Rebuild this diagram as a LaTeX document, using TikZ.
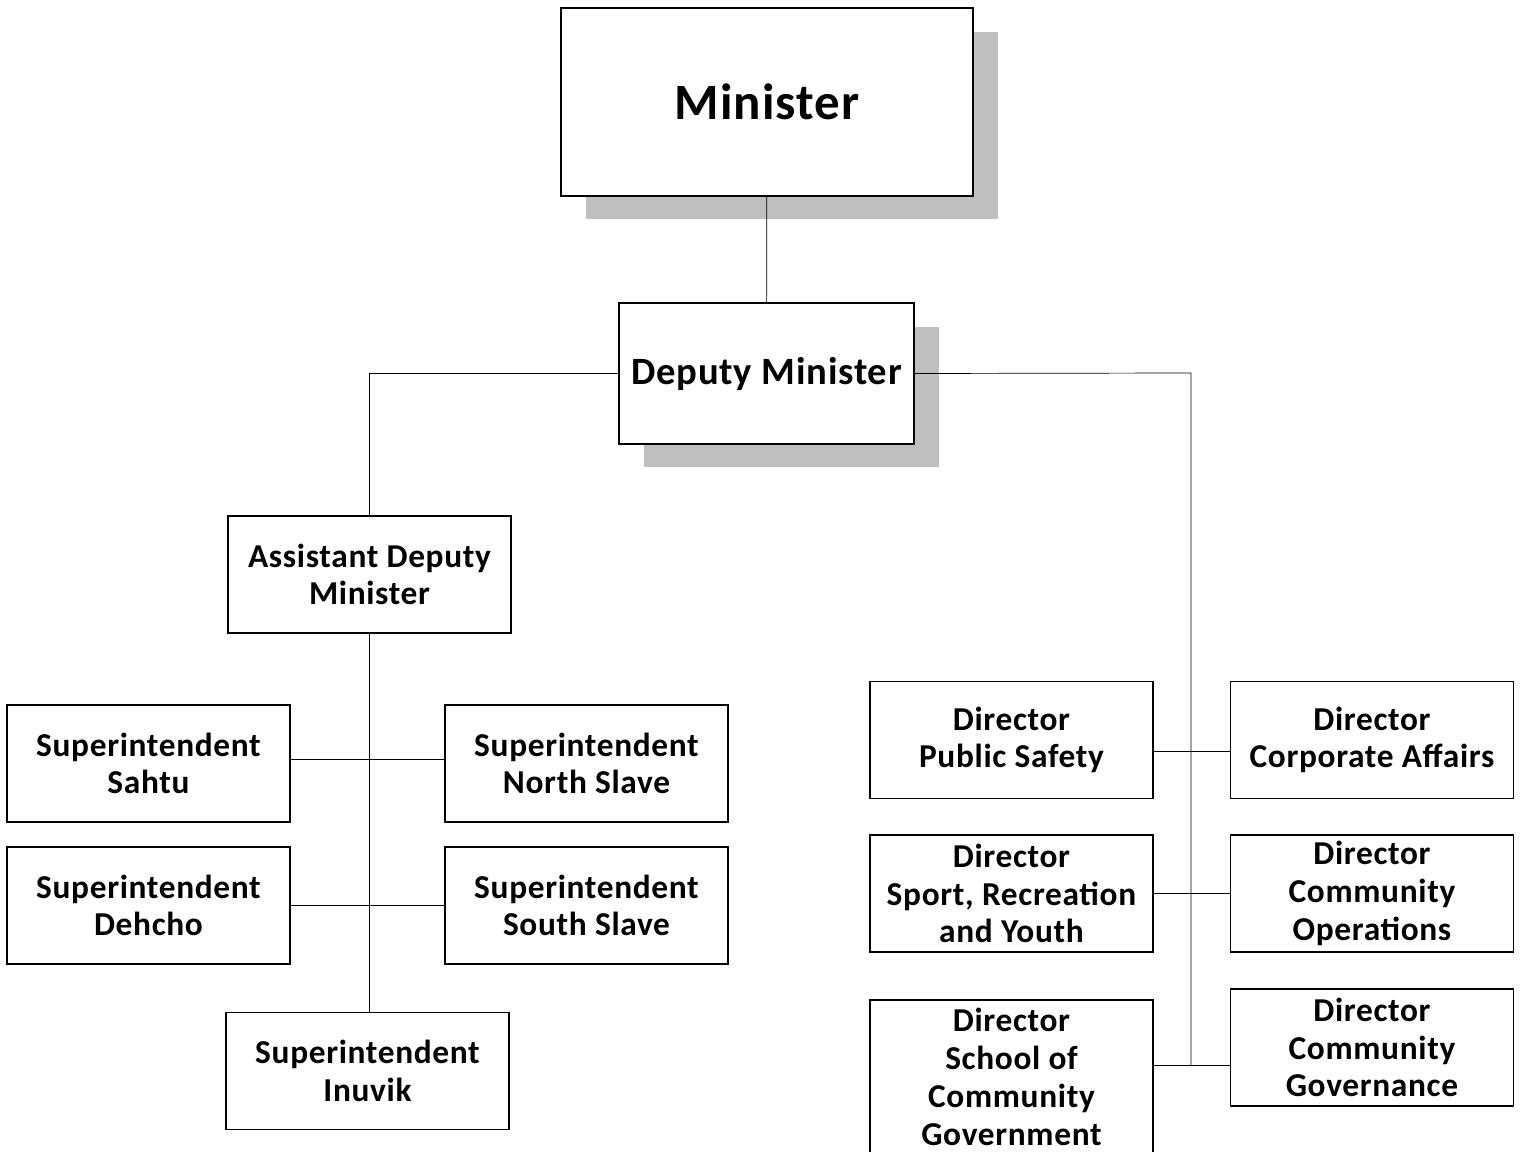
\documentclass[tikz,border=0pt]{standalone}
\usepackage{fontspec}
\setmainfont{Carlito}[LetterSpace=2]
\usetikzlibrary{positioning,shadows}
\tikzset{
  box/.style={draw, thick, fill=white, minimum width=5.66cm, minimum height=2.34cm, inner sep=0pt, align=center, font=\fontsize{19}{21.5}\selectfont\bfseries},
  topbox/.style={box, general shadow={fill=black!25, shadow xshift=0.5cm, shadow yshift=-0.47cm}},
  line/.style={thin}
}

\begin{document}
\begin{tikzpicture}[x=0.02cm, y=-0.02cm]
  \useasboundingbox (0,0) rectangle (1522,1152);

  \node[topbox, minimum width=8.24cm, minimum height=3.76cm, font=\fontsize{29}{32}\selectfont\bfseries] (min) at (767,102) {Minister};
  \node[topbox, minimum width=5.9cm, minimum height=2.82cm, font=\fontsize{22}{25}\selectfont\bfseries] (dm) at (766.5,373.5) {Deputy Minister};

  \node[box] (adm) at (369.5,574.5) {Assistant Deputy\\Minister};
  \node[box] (sahtu) at (148.5,763.5) {Superintendent\\Sahtu};
  \node[box] (nslave) at (586.5,763.5) {Superintendent\\North Slave};
  \node[box] (dehcho) at (148.5,905.5) {Superintendent\\Dehcho};
  \node[box] (sslave) at (586.5,905.5) {Superintendent\\South Slave};
  \node[box] (inuvik) at (367.5,1071) {Superintendent\\Inuvik};

  \node[box] (safety) at (1011.5,740) {Director\\Public Safety};
  \node[box] (corp) at (1372,740) {Director\\Corporate Affairs};
  \node[box] (sport) at (1011.5,893.5) {Director\\Sport, Recreation\\and Youth};
  \node[box] (ops) at (1372,893.5) {Director\\Community\\Operations};
  \node[box, minimum height=3.08cm] (school) at (1011.5,1077) {Director\\School of\\Community\\Government};
  \node[box] (gov) at (1372,1047.5) {Director\\Community\\Governance};

  \coordinate (trunk) at (1191,373);
  \coordinate (trunkend) at (1191,1065);

  \draw[line] (min) -- (dm);
  \draw[line] (dm.west) -| (adm.north);
  \draw[line] (dm.east) -- (trunk) -- (trunkend);
  \draw[line] (adm.south) -- (adm.south |- inuvik.north);
  \draw[line] ([yshift=0.08cm]sahtu.east) -- ([yshift=0.08cm]nslave.west);
  \draw[line] (dehcho) -- (sslave);
  \draw[line] ([yshift=-0.22cm]safety.east) -- ([yshift=-0.22cm]corp.west);
  \draw[line] (sport) -- (ops);
  \draw[line] (school.east |- trunkend) -- (gov.west |- trunkend);
\end{tikzpicture}
\end{document}
